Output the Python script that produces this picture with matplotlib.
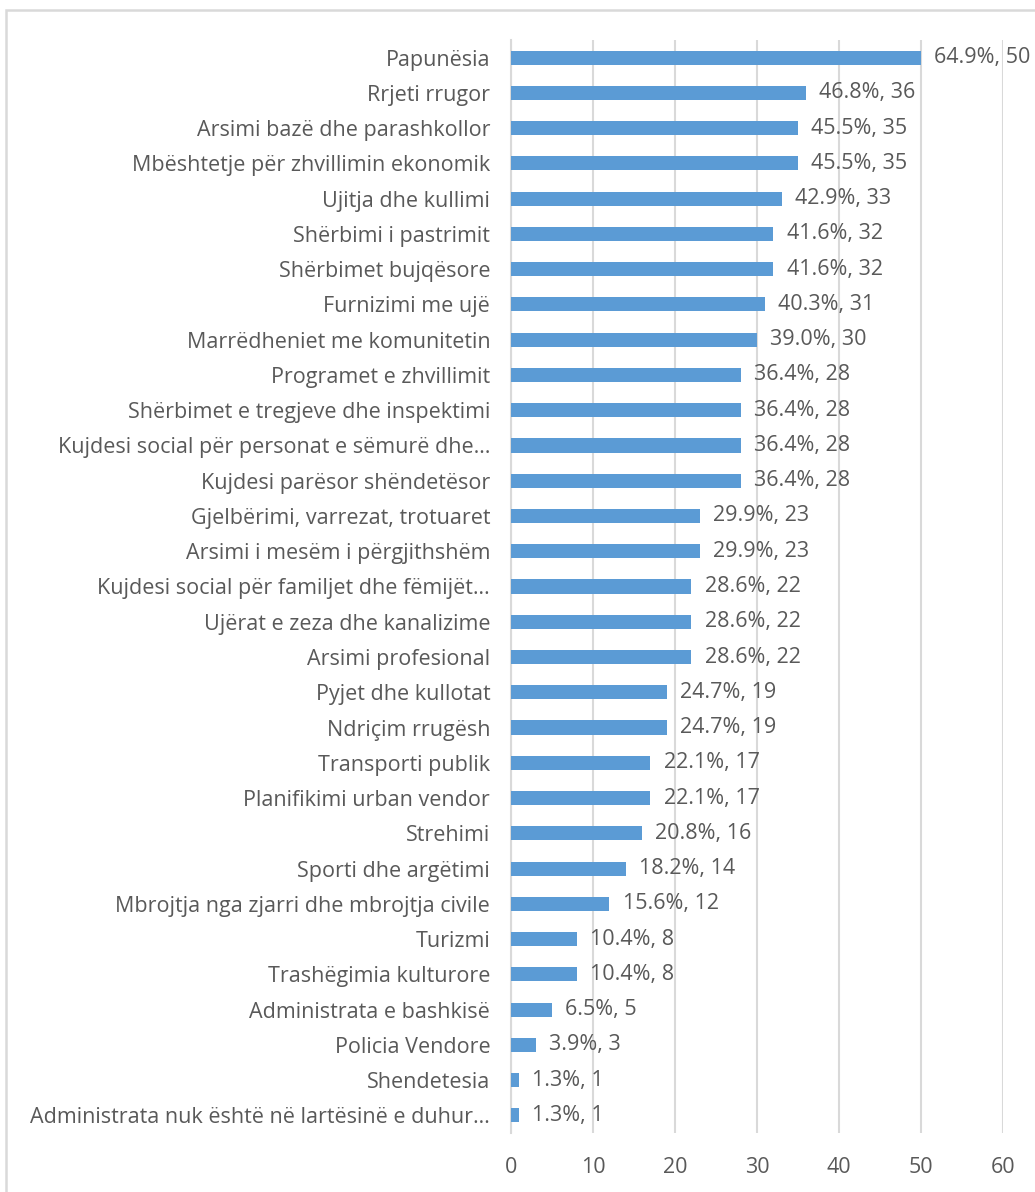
import matplotlib.pyplot as plt
from matplotlib.patches import Rectangle

# Categories and values, top to bottom as shown
categories = [
    "Papunësia", "Rrjeti rrugor", "Arsimi bazë dhe parashkollor",
    "Mbështetje për zhvillimin ekonomik", "Ujitja dhe kullimi",
    "Shërbimi i pastrimit", "Shërbimet bujqësore", "Furnizimi me ujë",
    "Marrëdheniet me komunitetin", "Programet e zhvillimit",
    "Shërbimet e tregjeve dhe inspektimi",
    "Kujdesi social për personat e sëmurë dhe…",
    "Kujdesi parësor shëndetësor", "Gjelbërimi, varrezat, trotuaret",
    "Arsimi i mesëm i përgjithshëm",
    "Kujdesi social për familjet dhe fëmijët…",
    "Ujërat e zeza dhe kanalizime", "Arsimi profesional",
    "Pyjet dhe kullotat", "Ndriçim rrugësh", "Transporti publik",
    "Planifikimi urban vendor", "Strehimi", "Sporti dhe argëtimi",
    "Mbrojtja nga zjarri dhe mbrojtja civile", "Turizmi",
    "Trashëgimia kulturore", "Administrata e bashkisë", "Policia Vendore",
    "Shendetesia", "Administrata nuk është në lartësinë e duhur…",
]
counts = [50, 36, 35, 35, 33, 32, 32, 31, 30, 28, 28, 28, 28, 23, 23, 22,
          22, 22, 19, 19, 17, 17, 16, 14, 12, 8, 8, 5, 3, 1, 1]
percents = [64.9, 46.8, 45.5, 45.5, 42.9, 41.6, 41.6, 40.3, 39.0, 36.4, 36.4,
            36.4, 36.4, 29.9, 29.9, 28.6, 28.6, 28.6, 24.7, 24.7, 22.1, 22.1,
            20.8, 18.2, 15.6, 10.4, 10.4, 6.5, 3.9, 1.3, 1.3]
xticks = [0, 10, 20, 30, 40, 50, 60]

plt.rcParams['font.family'] = ['Open Sans', 'DejaVu Sans']
text_color = "#595959"
fs = 15.5

fig = plt.figure(figsize=(10.35, 11.92), dpi=100)
ax = fig.add_axes([511 / 1035, 1 - 1133 / 1192, 492 / 1035, 1093 / 1192])

# chart area border (cropped screenshot)
fig.patches.append(Rectangle((6 / 1035, -0.1), 1.2, 1 - 10 / 1192 + 0.1,
                             transform=fig.transFigure, fill=False,
                             edgecolor="#D9D9D9", linewidth=1.8))

ypos = list(range(len(categories)))
ax.barh(ypos, counts, height=0.4, color="#5B9BD5", zorder=3)

for y, c, p in zip(ypos, counts, percents):
    ax.text(c + 1.6, y, f"{p:.1f}%, {c}", va="center", ha="left",
            fontsize=fs, color=text_color, clip_on=False)

ax.set_xlim(0, 60)
ax.set_ylim(len(categories) - 0.5, -0.5)
ax.set_xticks(xticks)
ax.set_yticks(ypos)
ax.set_yticklabels(categories)
ax.tick_params(axis="y", length=0, pad=15, labelsize=fs, labelcolor=text_color)
ax.tick_params(axis="x", length=0, pad=17, labelsize=fs, labelcolor=text_color)
ax.grid(axis="x", color="#D9D9D9", linewidth=1.5, zorder=0)
for s in ["top", "right", "bottom"]:
    ax.spines[s].set_visible(False)
ax.spines["left"].set_color("#D9D9D9")
ax.spines["left"].set_linewidth(1.5)

fig.savefig("out.png", dpi=100)
